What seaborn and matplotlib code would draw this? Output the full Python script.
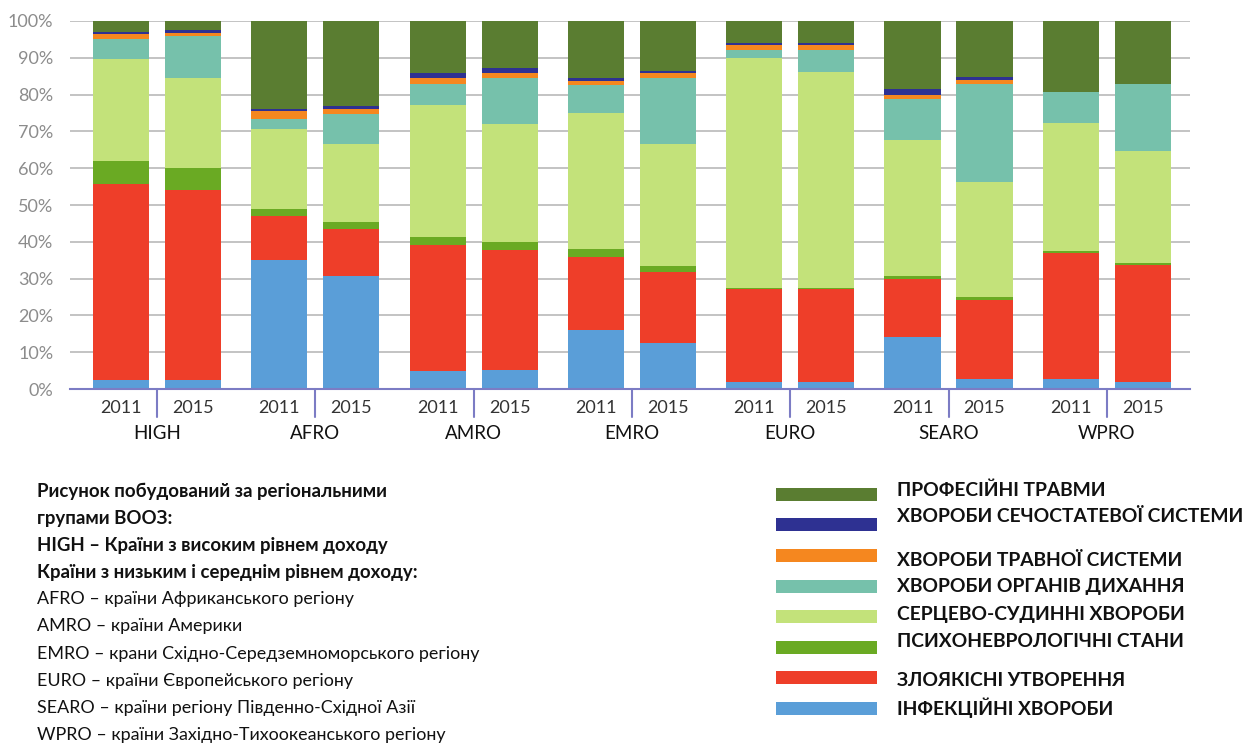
import numpy as np
import pandas as pd
import matplotlib
matplotlib.use('Agg')
import matplotlib.pyplot as plt
import matplotlib.transforms as mtransforms
from matplotlib.patches import Rectangle
import seaborn as sns

# Дані (частки, %)
regions = ['HIGH', 'AFRO', 'AMRO', 'EMRO', 'EURO', 'SEARO', 'WPRO']
years = ['2011', '2015']

causes = ['ІНФЕКЦІЙНІ ХВОРОБИ', 'ЗЛОЯКІСНІ УТВОРЕННЯ', 'ПСИХОНЕВРОЛОГІЧНІ СТАНИ',
          'СЕРЦЕВО-СУДИННІ ХВОРОБИ', 'ХВОРОБИ ОРГАНІВ ДИХАННЯ', 'ХВОРОБИ ТРАВНОЇ СИСТЕМИ',
          'ХВОРОБИ СЕЧОСТАТЕВОЇ СИСТЕМИ', 'ПРОФЕСІЙНІ ТРАВМИ']
cores = ['#5a9ed8', '#ee3e29', '#6aaa23', '#c3e27a', '#76c1ab', '#f5871f', '#2e3192', '#5a7d31']

# порядок стовпців: HIGH 2011, HIGH 2015, AFRO 2011, ...
infekcijni = [2.5, 2.5, 35.1, 30.6, 5.0, 5.2, 15.9, 12.4, 1.9, 1.9, 14.2, 2.6, 2.6, 1.9]
zloyakisni = [53.3, 51.7, 11.8, 12.9, 34.0, 32.5, 19.9, 19.3, 25.2, 25.2, 15.7, 21.6, 34.3, 31.7]
psyho = [6.1, 5.9, 2.0, 1.8, 2.3, 2.2, 2.2, 1.6, 0.3, 0.3, 0.9, 0.8, 0.7, 0.6]
sercevo = [27.7, 24.5, 21.8, 21.4, 35.8, 32.0, 37.0, 33.4, 62.6, 58.7, 36.8, 31.2, 34.7, 30.6]
dyhannya = [5.6, 11.3, 2.7, 7.9, 5.8, 12.7, 7.5, 17.8, 2.1, 6.0, 11.1, 26.8, 8.4, 18.0]
travna = [1.4, 0.9, 2.1, 1.5, 1.6, 1.3, 1.3, 1.3, 1.3, 1.4, 1.3, 1.1, 0.0, 0.0]
sechostat = [0.5, 0.7, 0.6, 0.8, 1.3, 1.2, 0.7, 0.7, 0.6, 0.6, 1.6, 0.7, 0.0, 0.0]
profesijni = [2.9, 2.5, 23.9, 23.1, 14.2, 12.9, 15.5, 13.5, 6.0, 5.9, 18.4, 15.2, 19.3, 17.2]

opys = [
    ('Рисунок побудований за регіональними', True),
    ('групами ВООЗ:', True),
    ('HIGH – Країни з високим рівнем доходу', True),
    ('Країни з низьким і середнім рівнем доходу:', True),
    ('AFRO – країни Африканського регіону', False),
    ('AMRO – країни Америки', False),
    ('EMRO – крани Східно-Середземноморського регіону', False),
    ('EURO – країни Європейського регіону', False),
    ('SEARO – країни регіону Південно-Східної Азії', False),
    ('WPRO – країни Західно-Тихоокеанського регіону', False),
]

W, H = 1248, 747
sns.set_theme(style='white')
plt.rcParams['font.family'] = ['Lato', 'DejaVu Sans']

fig = plt.figure(figsize=(W / 100, H / 100), dpi=100)
ax = fig.add_axes([70 / W, (H - 389) / H, 1120 / W, 368 / H])

# позиції стовпців (в пікселях осі)
rows = []
for gi, reg in enumerate(regions):
    for yi, yr in enumerate(years):
        rows.append({'region': reg, 'year': yr, 'pos': 51 + gi * 158.3 + yi * 72})
df = pd.DataFrame(rows)

vals = np.array([infekcijni, zloyakisni, psyho, sercevo, dyhannya, travna, sechostat, profesijni])
shares = vals / vals.sum(axis=0) * 100
cum = shares.cumsum(axis=0)

# накладаємо кумулятивні стовпці зверху вниз
for k in range(len(causes) - 1, -1, -1):
    df['top'] = cum[k]
    sns.barplot(data=df, x='pos', y='top', native_scale=True, color=cores[k],
                width=0.78, errorbar=None, saturation=1, linewidth=0, ax=ax)

ax.set_xlim(0, 1120)
ax.set_ylim(0, 100)
ax.set_xlabel('')
ax.set_ylabel('')
ax.set_xticks([])
ax.set_yticks(range(0, 101, 10))
ax.set_yticklabels([f'{v}%' for v in range(0, 101, 10)], color='#8c8c8c', fontsize=13)
ax.tick_params(axis='y', length=0, pad=12)
ax.yaxis.grid(True, color='#b9b9b9', linewidth=1.2)
ax.xaxis.grid(False)
ax.set_axisbelow(True)
for s in ['left', 'right', 'top']:
    ax.spines[s].set_visible(False)
ax.spines['bottom'].set_color('#7c7cc4')
ax.spines['bottom'].set_linewidth(1.5)

trans = mtransforms.blended_transform_factory(ax.transData, ax.transAxes)
for _, r in df.iterrows():
    ax.text(r['pos'], -0.052, r['year'], transform=trans, ha='center', va='center',
            fontsize=13, color='#333333')
for reg in regions:
    c = df.loc[df['region'] == reg, 'pos'].mean()
    ax.text(c, -0.12, reg, transform=trans, ha='center', va='center',
            fontsize=13.5, color='#111111')
    ax.plot([c, c], [0, -0.076], transform=trans, clip_on=False, color='#7c7cc4', lw=1.5)

# легенда
patch_y = [708, 677.5, 647, 616, 586, 555, 524.5, 494]
text_y = [708, 680.7, 641.7, 614.7, 586.7, 560, 517, 490.7]
for k in range(len(causes)):
    fig.patches.append(Rectangle((776 / W, 1 - (patch_y[k] + 6.5) / H), 101 / W, 13 / H,
                                 transform=fig.transFigure, facecolor=cores[k], edgecolor='none'))
    fig.text(897 / W, 1 - text_y[k] / H, causes[k], ha='left', va='center',
             fontsize=13.9, fontweight='bold', color='#111111')

for i, (line, bold) in enumerate(opys):
    fig.text(37 / W, 1 - (491 + i * 27.1) / H, line, ha='left', va='center',
             fontsize=13.4 if bold else 12.9,
             fontweight='bold' if bold else 'normal', color='#111111')

fig.savefig('out.png', dpi=100, facecolor='white')
